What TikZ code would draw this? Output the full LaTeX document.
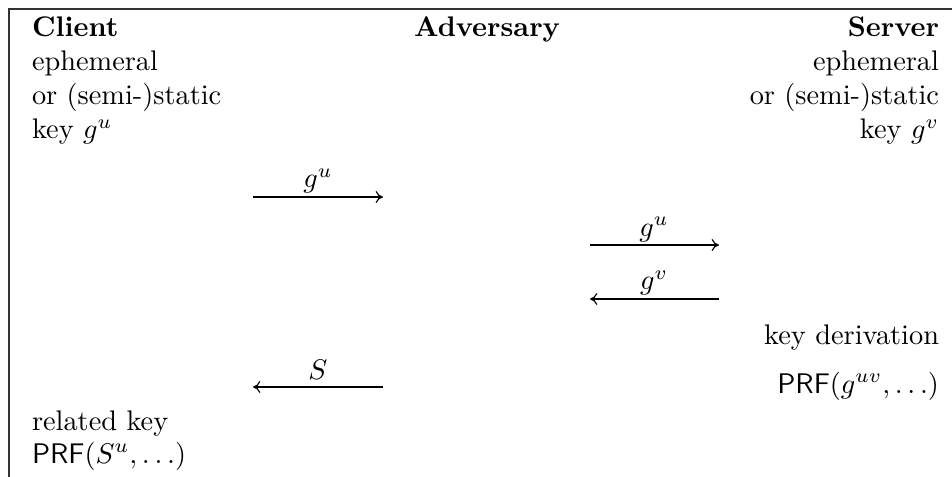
\documentclass[tikz,border=0pt]{standalone}
\usetikzlibrary{arrows.meta}
\begin{document}
\begin{tikzpicture}[x=0.35294pt,y=-0.35294pt,
  txt/.style={inner sep=0pt, outer sep=0pt},
  lft/.style={txt,anchor=base west},
  rgt/.style={txt,anchor=base east},
  ctr/.style={txt,anchor=base},
  msg/.style={line width=0.4pt,-{Computer Modern Rightarrow[length=2.6pt,width=4.2pt]}},
  frame/.style={line width=0.45pt,draw=black!80}]
\useasboundingbox (0,0) rectangle (952,477);
\draw[frame] (9,480) -- (9,9) -- (955,9);
% client column
\node[lft,font=\bfseries] (client) at (32,37) {Client};
\node[lft] (c1) at (32,71) {ephemeral};
\node[lft] (c2) at (32,105) {or (semi-)static};
\node[lft] (c3) at (32,139) {key $g^u$};
\node[lft] (rk) at (32,430) {related key};
\node[lft] (prfc) at (32,463) {$\mathsf{PRF}(S^u,\dots)$};
% adversary
\node[ctr,font=\bfseries] (adv) at (487,37) {Adversary};
% server column
\node[rgt,font=\bfseries] (server) at (939,37) {Server};
\node[rgt] (s1) at (939,71) {ephemeral};
\node[rgt] (s2) at (939,105) {or (semi-)static};
\node[rgt] (s3) at (939,139) {key $g^v$};
\node[rgt] (kd) at (939,345) {key derivation};
\node[rgt] (prfs) at (939,393) {$\mathsf{PRF}(g^{uv},\dots)$};
% messages
\coordinate (m1a) at (253,197); \coordinate (m1b) at (383,197);
\draw[msg] (m1a) -- (m1b);
\node[ctr] (l1) at (318,188) {$g^u$};
\coordinate (m2a) at (590,245); \coordinate (m2b) at (719,245);
\draw[msg] (m2a) -- (m2b);
\node[ctr] (l2) at (654,236) {$g^u$};
\coordinate (m3a) at (719,299); \coordinate (m3b) at (590,299);
\draw[msg] (m3a) -- (m3b);
\node[ctr] (l3) at (654,290) {$g^v$};
\coordinate (m4a) at (383,387); \coordinate (m4b) at (253,387);
\draw[msg] (m4a) -- (m4b);
\node[ctr] (l4) at (318,379) {$S$};
\end{tikzpicture}
\end{document}
